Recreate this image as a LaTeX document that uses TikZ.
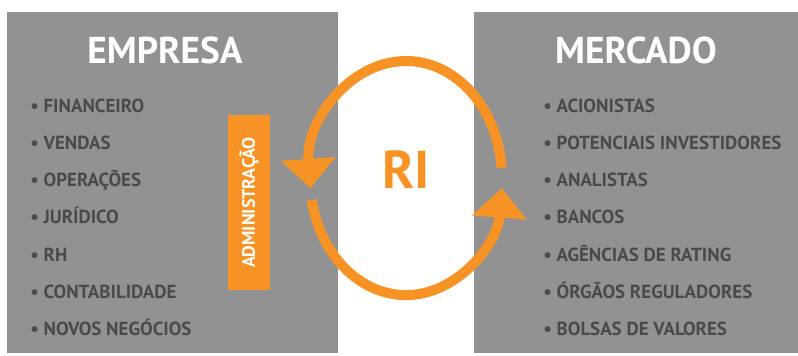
\documentclass[tikz,border=0pt]{standalone}
\usepackage{fontspec}
\setmainfont{PT Sans}
\usetikzlibrary{arrows.meta}

\definecolor{boxgray}{RGB}{146,146,146}
\definecolor{itemgray}{RGB}{74,74,74}
\definecolor{riorange}{RGB}{247,146,36}

\tikzset{
	item/.style={anchor=base west, inner sep=0pt, text=itemgray, font=\fontsize{14.2}{17}\selectfont\bfseries},
	title/.style={anchor=base, inner sep=0pt, text=white, font=\fontsize{28}{32}\selectfont\bfseries},
	cyclearrow/.style={draw=riorange, line width=7.5pt, -{Triangle[width=40pt,length=22pt]}},
}

\begin{document}
\begin{tikzpicture}[x=0.75pt,y=0.75pt,yscale=-1,xscale=1]
	\useasboundingbox (0,0) rectangle (798,355);
	
	%Rect empresa
	\fill [boxgray] (7,12) rectangle (338,353);
	%Rect mercado
	\fill [boxgray] (474,12) rectangle (798,353);
	
	% Text Node
	\node (empresa) [title] at (165,63) {EMPRESA};
	% Text Node
	\node (mercado) [title] at (636,63) {MERCADO};
	
	% Text Node
	\node (financeiro) [item] at (30,112) {• FINANCEIRO};
	% Text Node
	\node (vendas) [item] at (30,149) {• VENDAS};
	% Text Node
	\node (operacoes) [item] at (30,186) {• OPERAÇÕES};
	% Text Node
	\node (juridico) [item] at (30,223) {• JURÍDICO};
	% Text Node
	\node (rh) [item] at (30,261) {• RH};
	% Text Node
	\node (contabilidade) [item] at (30,298) {• CONTABILIDADE};
	% Text Node
	\node (negocios) [item] at (30,335) {• NOVOS NEGÓCIOS};
	
	% Text Node
	\node (acionistas) [item] at (543,112) {• ACIONISTAS};
	% Text Node
	\node (investidores) [item] at (543,149) {• POTENCIAIS INVESTIDORES};
	% Text Node
	\node (analistas) [item] at (543,186) {• ANALISTAS};
	% Text Node
	\node (bancos) [item] at (543,223) {• BANCOS};
	% Text Node
	\node (rating) [item] at (543,261) {• AGÊNCIAS DE RATING};
	% Text Node
	\node (orgaos) [item] at (543,298) {• ÓRGÃOS REGULADORES};
	% Text Node
	\node (bolsas) [item] at (543,335) {• BOLSAS DE VALORES};
	
	% Administracao bar
	\node (admin) [fill=riorange, text=white, rotate=90, inner sep=0pt, minimum width=131.25pt, minimum height=31.5pt, font=\fontsize{13.5}{16}\selectfont\bfseries] at (249,202.5) {ADMINISTRAÇÃO};
	
	% Text Node
	\node (ri) [anchor=base, inner sep=0pt, text=riorange, font=\fontsize{40}{44}\selectfont\bfseries] at (406,188) {RI};
	
	%Arcs
	\coordinate (topstart) at (501.6,167.8);
	\coordinate (botstart) at (311.7,200);
	\draw [cyclearrow] (topstart) arc [start angle=-5, end angle=-185, x radius=96, y radius=117];
	\draw [cyclearrow] (botstart) arc [start angle=169.2, end angle=5, x radius=96, y radius=117];
	
\end{tikzpicture}
\end{document}
